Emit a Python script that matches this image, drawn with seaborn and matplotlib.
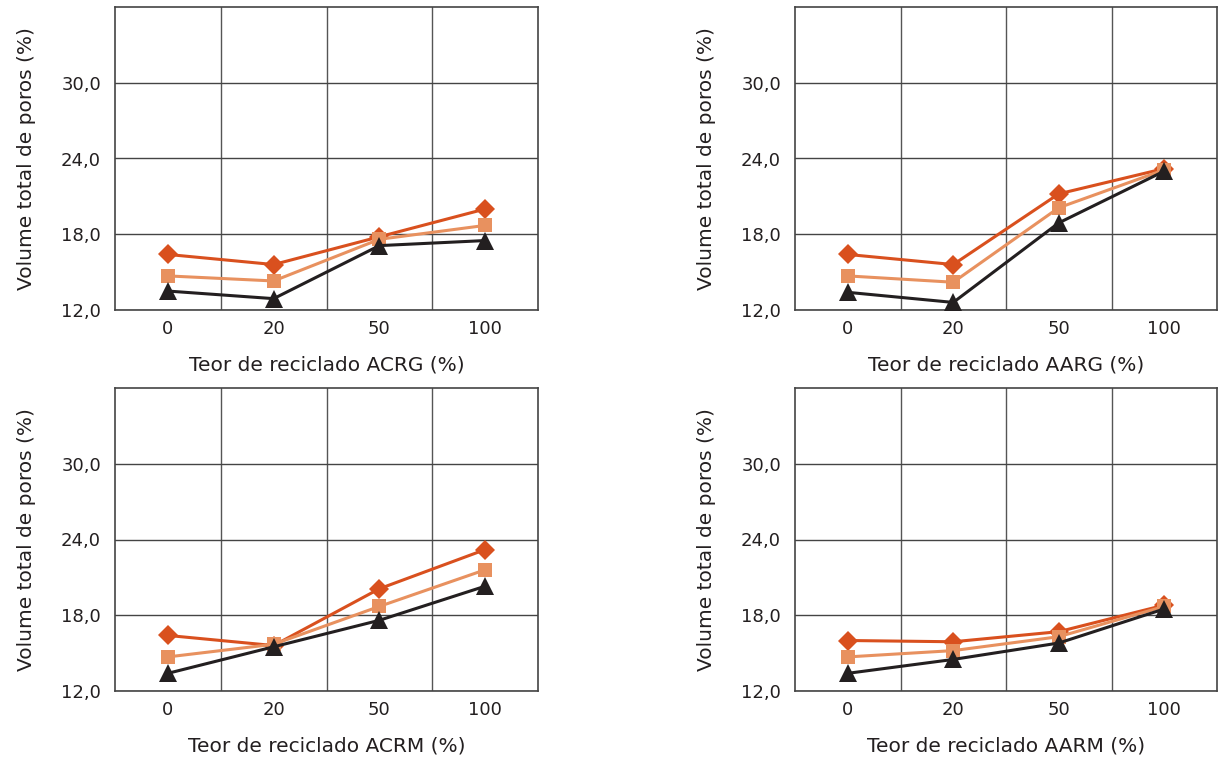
import matplotlib
matplotlib.use("Agg")
import matplotlib.pyplot as plt
import seaborn as sns
import pandas as pd
from matplotlib.ticker import FixedLocator

categories = ["0", "20", "50", "100"]
yticks = [12, 18, 24, 30]
ytick_labels = ["12,0", "18,0", "24,0", "30,0"]

xlabels = ["Teor de reciclado ACRG (%)", "Teor de reciclado AARG (%)",
           "Teor de reciclado ACRM (%)", "Teor de reciclado AARM (%)"]
ylabel = "Volume total de poros (%)"

# series per panel: diamond (dark orange), square (light orange), triangle (black)
acrg_diamond = [16.4, 15.6, 17.8, 20.0]
acrg_square = [14.7, 14.3, 17.6, 18.7]
acrg_triangle = [13.5, 12.9, 17.1, 17.5]

aarg_diamond = [16.4, 15.6, 21.2, 23.2]
aarg_square = [14.7, 14.2, 20.1, 23.1]
aarg_triangle = [13.4, 12.6, 18.9, 23.0]

acrm_diamond = [16.4, 15.6, 20.1, 23.2]
acrm_square = [14.7, 15.7, 18.7, 21.6]
acrm_triangle = [13.4, 15.5, 17.6, 20.3]

aarm_diamond = [16.0, 15.9, 16.7, 18.8]
aarm_square = [14.7, 15.2, 16.3, 18.7]
aarm_triangle = [13.4, 14.5, 15.8, 18.5]

panels = [
    (acrg_diamond, acrg_square, acrg_triangle),
    (aarg_diamond, aarg_square, aarg_triangle),
    (acrm_diamond, acrm_square, acrm_triangle),
    (aarm_diamond, aarm_square, aarm_triangle),
]

sns.set_theme(style="white")
plt.rcParams['font.family'] = ['DejaVu Sans']

fig = plt.figure(figsize=(12.19, 7.61), dpi=100)
W, H = 1219, 761
boxes = [(115, 7, 538, 310), (795, 7, 1217, 310),
         (115, 388, 538, 691), (795, 388, 1217, 691)]

styles = [("D", "#D9501E", 10), ("s", "#E8915F", 9.5), ("^", "#231F20", 13)]

for (l, t, r, b), series, xl in zip(boxes, panels, xlabels):
    ax = fig.add_axes([l / W, 1 - b / H, (r - l) / W, (b - t) / H])
    for vals, (mk, col, ms) in zip(series, styles):
        df = pd.DataFrame({"x": list(range(len(categories))), "y": vals})
        sns.lineplot(data=df, x="x", y="y", ax=ax, color=col, marker=mk,
                     markersize=ms, markeredgewidth=0, linewidth=2.2,
                     sort=False, clip_on=False, zorder=3)
    ax.set_xlim(-0.5, 3.5)
    ax.set_ylim(12, 36)
    ax.set_xticks(range(len(categories)))
    ax.set_xticklabels(categories)
    ax.xaxis.set_minor_locator(FixedLocator([0.5, 1.5, 2.5]))
    ax.set_yticks(yticks)
    ax.set_yticklabels(ytick_labels)
    ax.grid(False)
    ax.grid(True, which="minor", axis="x", color="#555555", linewidth=1)
    ax.grid(True, which="major", axis="y", color="#444444", linewidth=1)
    ax.tick_params(axis="x", which="both", length=0, labelsize=13,
                   colors="#231F20", pad=7)
    ax.tick_params(axis="y", which="both", length=0, labelsize=13,
                   colors="#231F20", pad=10)
    for s in ax.spines.values():
        s.set_color("#444444")
        s.set_linewidth(1.2)
    ax.set_xlabel(xl, fontsize=14.5, color="#231F20", labelpad=13)
    ax.set_ylabel(ylabel, fontsize=14.5, color="#231F20", labelpad=18)

fig.savefig("out.png", dpi=100)
